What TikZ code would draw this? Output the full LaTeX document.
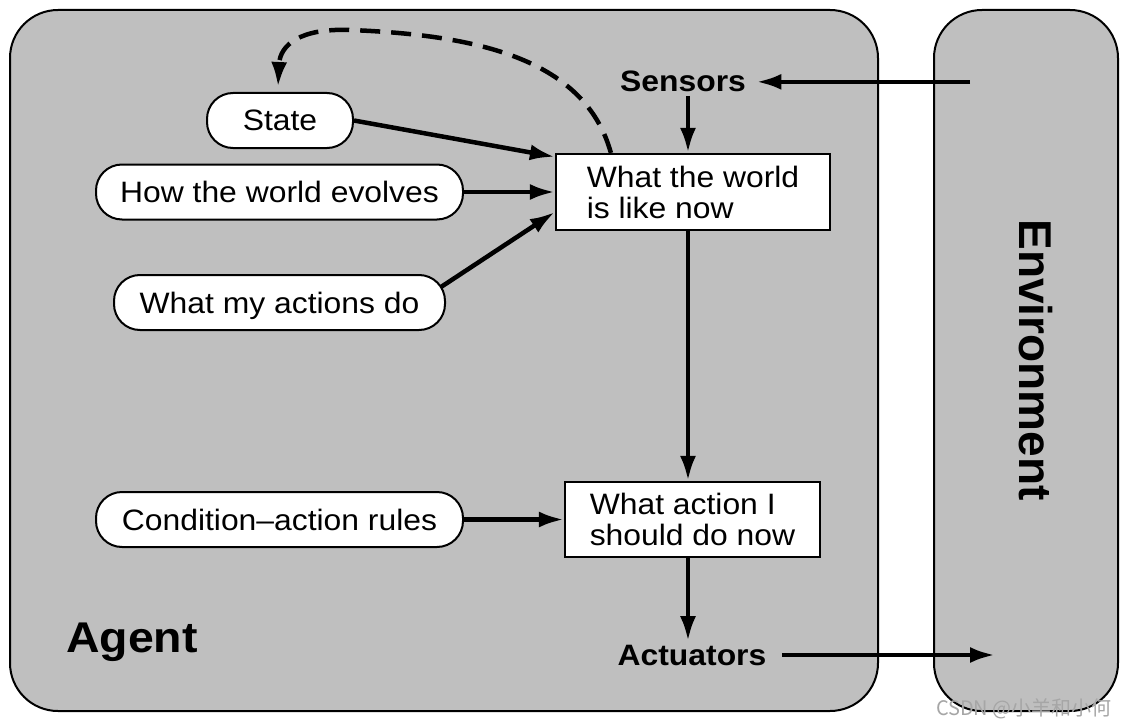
\documentclass[tikz,border=0pt]{standalone}
\usepackage{fontspec}
\setmainfont{Liberation Sans}[FakeStretch=1.08]
\newfontfamily\envfont{Liberation Sans}
\newfontfamily\cjkfont{Noto Sans CJK SC}
\usetikzlibrary{arrows.meta,calc}
\definecolor{agentgray}{RGB}{191,191,191}
\begin{document}
\begin{tikzpicture}[x=1pt,y=-1pt,
  bigbox/.style={draw,line width=2pt,fill=agentgray,rounded corners=48pt,inner sep=0pt},
  pill/.style={draw,line width=2pt,fill=white,rounded corners=26pt,minimum height=55pt,inner sep=0pt,
    font=\fontsize{29.5}{31}\selectfont,text height=21pt,text depth=0pt},
  rectbox/.style={draw,line width=2.2pt,fill=white,font=\fontsize{29.5}{31}\selectfont,align=left,inner sep=0pt},
  lbl/.style={font=\fontsize{29.5}{31}\selectfont\bfseries},
  arr/.style={line width=4.5pt,-{Latex[length=25pt,width=16pt]}},
]
\useasboundingbox (0,0) rectangle (1128,725);
\fill[white] (0,0) rectangle (1128,725);

% outer boxes
\node[bigbox,minimum width=868pt,minimum height=701pt] (agentbox) at (444,360.5) {};
\node[bigbox,minimum width=184pt,minimum height=701pt] (envbox) at (1026,360.5) {};

% labels
\node[font=\fontsize{43}{47}\selectfont\bfseries,anchor=base west,inner sep=0pt] (agent) at (66,652) {Agent};
\node[font=\envfont\bfseries\fontsize{46}{50}\selectfont,rotate=-90] (env) at (1036,360) {Environment};
\node[lbl,anchor=base] (sensors) at (683,92) {Sensors};
\node[lbl,anchor=base] (actuators) at (692,665) {Actuators};

% pills
\node[pill,minimum width=146pt] (state) at (280,120.5) {State};
\node[pill,minimum width=367pt] (evolves) at (279.5,192) {How the world evolves};
\node[pill,minimum width=331pt] (actions) at (279.5,302.5) {What my actions do};
\node[pill,minimum width=367pt] (rules) at (279.5,519.5) {Condition--action rules};

% rectangles
\node[rectbox,minimum width=274pt,minimum height=76pt] (world) at (693,192) {What the world\\is like now};
\node[rectbox,minimum width=255pt,minimum height=75pt] (action) at (692.5,519.5) {What action I\\should do now};

% helper coordinates
\coordinate (mid) at (688,0);
\coordinate (envout) at (970,0);
\coordinate (envin) at (995,0);

% connectors
\draw[arr] (envout |- sensors.east) -- ([xshift=7pt]sensors.east);
\draw[arr] (sensors.south -| mid) -- (world.north -| mid);
\draw[arr] (state.east) -- ([yshift=-4pt]world.north west);
\draw[arr] (evolves.east) -- (evolves.east -| world.west);
\draw[arr] ([xshift=-5pt,yshift=-13pt]actions.north east) -- ([yshift=-20pt]world.west);
\draw[arr] (world.south -| mid) -- (action.north -| mid);
\draw[arr] (rules.east) -- (rules.east -| action.west);
\draw[arr] (action.south -| mid) -- (actuators.north -| mid);
\draw[arr] ([xshift=12pt]actuators.east) -- (actuators.east -| envin);
\draw[arr,dash pattern=on 20pt off 11pt]
  ([xshift=56pt]world.north west) .. controls (585,60) and (480,35) .. (350,30)
  .. controls (300,28) and (280,45) .. ([xshift=-2pt,yshift=5pt]state.north);

% watermark
\node[font=\cjkfont\fontsize{20}{22}\selectfont,text=gray!70,anchor=base east,inner sep=0pt] (wm) at (1112,715) {CSDN @小羊和小何};
\end{tikzpicture}
\end{document}
